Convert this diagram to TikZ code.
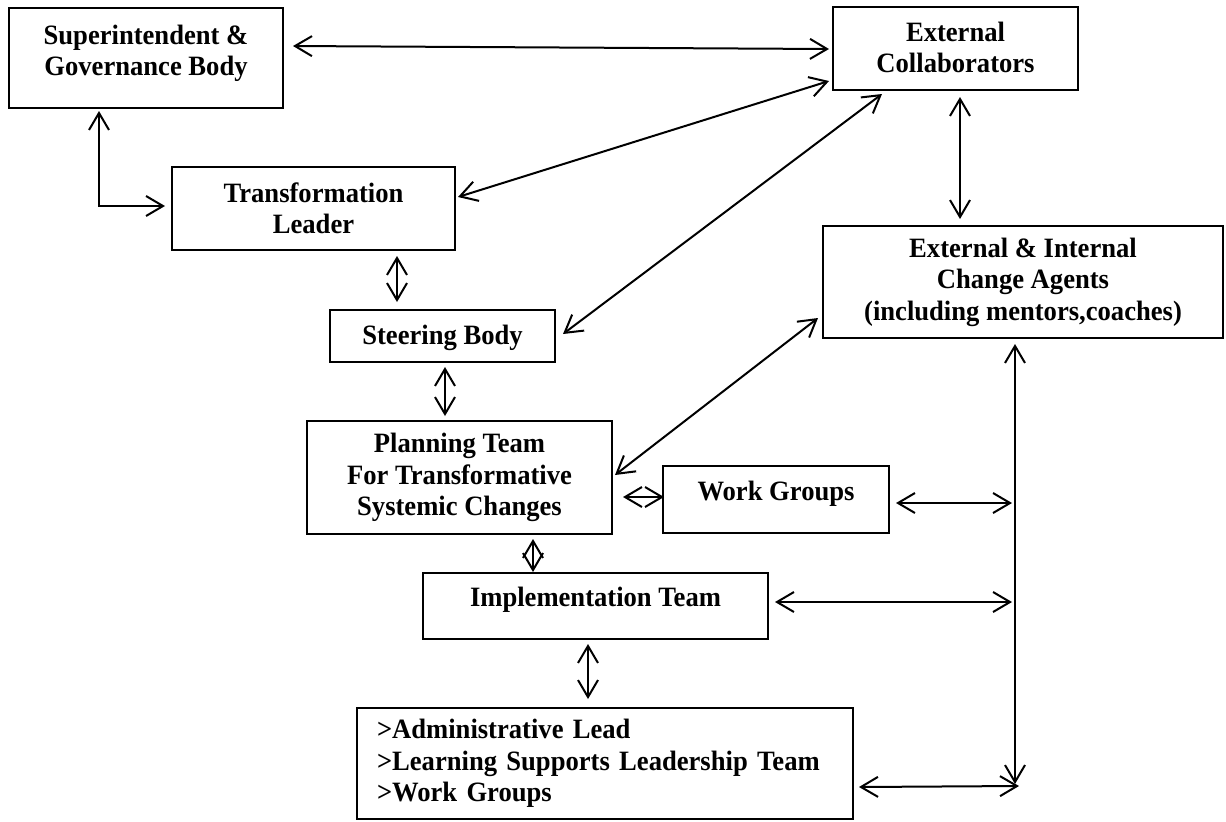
\documentclass[tikz,border=0pt]{standalone}
\usepackage{fontspec}
\setmainfont[FakeStretch=0.95]{Liberation Serif}
\usepackage{tikz}
\usetikzlibrary{arrows.meta, calc, positioning}

\begin{document}
\begin{tikzpicture}[x=0.5pt, y=-0.5pt, line width=1pt,
    font=\fontsize{14}{15.7}\selectfont\bfseries,
    box/.style={draw, rectangle, align=center, inner sep=0pt},
    arr/.style={{Straight Barb[length=8.5pt,width=10pt]}-{Straight Barb[length=8.5pt,width=10pt]}}]
  \useasboundingbox (0,0) rectangle (1226,821);
  % The boxes, placed at their centres
  \node[box, minimum width=137pt, minimum height=50pt, text depth=8pt] (sup) at (146,58) {Superintendent \&\\Governance Body};
  \node[box, minimum width=122.5pt, minimum height=41.5pt, text depth=1pt] (ext) at (955.5,48.5) {External\\Collaborators};
  \node[box, minimum width=141.5pt, minimum height=41.5pt] (lead) at (313.5,208.5) {Transformation\\Leader};
  \node[box, minimum width=112.5pt, minimum height=26pt, text depth=1.5pt] (steer) at (442.5,336) {Steering Body};
  \node[box, minimum width=200pt, minimum height=56pt] (agents) at (1023,282) {External \& Internal\\Change Agents\\(including mentors,coaches)};
  \node[box, minimum width=152.5pt, minimum height=56.5pt] (plan) at (459.5,477.5) {Planning Team\\For Transformative\\Systemic Changes};
  \node[box, minimum width=113pt, minimum height=33.5pt, text depth=9pt] (work) at (776,499.5) {Work Groups};
  \node[box, minimum width=172.5pt, minimum height=33pt, text depth=9pt] (impl) at (595.5,606) {Implementation Team};
  \node[box, align=left, text width=228pt, inner xsep=10pt, minimum height=55.5pt] (lst) at (605,763.5) {>Administrative Lead\\>Learning Supports Leadership Team\\>Work Groups};
  % Links in the upper part
  \draw[arr] ($(sup.east)+(9,-12)$) -- ($(ext.west)+(-3,0.5)$);
  \draw[arr] ($(sup.south)+(-47,2)$) |- ($(lead.west)+(-6,-2.5)$);
  \draw[arr] ($(lead.east)+(2,-11.5)$) -- ($(ext.south west)+(-3,-10)$);
  \draw[arr] ($(steer.east)+(7,-2)$) -- ($(ext.south west)+(50,3)$);
  \draw[arr] ($(lead.south)+(83.5,5)$) -- ($(steer.north)+(-45.5,-7)$);
  \draw[arr] ($(steer.south)+(2.5,4)$) -- ($(plan.north)+(-14.5,-4)$);
  \draw[arr] ($(ext.south)+(4.5,6)$) -- ($(agents.north)+(-63,-6)$);
  % Links in the lower part
  \draw[arr] ($(plan.east)+(2,-2.5)$) -- ($(agents.south west)+(-4,-21)$);
  \draw[arr] ($(plan.east)+(10,19.5)$) -- ($(work.west)+(2,-2.5)$);
  \draw[arr] ($(plan.south)+(73.5,4)$) -- ($(impl.north)+(-62.5,0)$);
  \draw[arr] ($(impl.south)+(-7.5,4)$) -- ($(lst.north)+(-17,-8)$);
  % The rail on the right
  \coordinate (railend) at ($(agents.south)+(-8,445)$);
  \draw[arr] ($(agents.south)+(-8,5)$) -- (railend);
  \draw[arr] ($(work.east)+(6,3.5)$) -- ($(railend |- work.east)+(-3,3.5)$);
  \draw[arr] ($(impl.east)+(6,-4)$) -- ($(railend |- impl.east)+(-3,-4)$);
  \draw[arr] ($(lst.east)+(5,23.5)$) -- ($(railend |- lst.east)+(4,22.5)$);
\end{tikzpicture}
\end{document}
